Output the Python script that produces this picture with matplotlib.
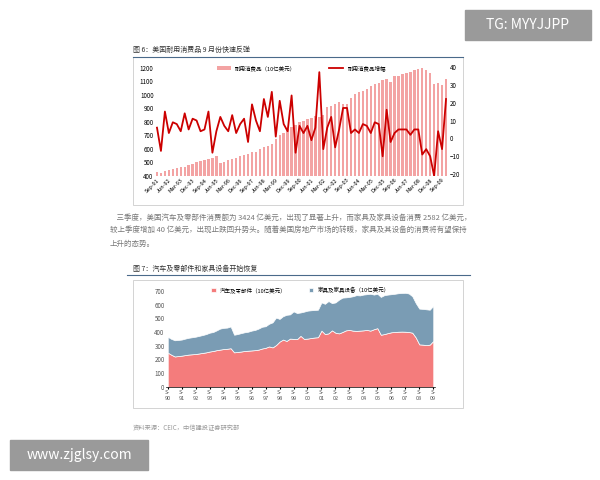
import matplotlib
matplotlib.use("Agg")
import matplotlib.pyplot as plt
import numpy as np

plt.rcParams['font.family'] = ['Noto Sans CJK SC', 'DejaVu Sans']

# Chart 1: durable goods (quarterly, Sep-91 .. )
dur_ticks = ['Sep-91','Jun-92','Mar-93','Dec-93','Sep-94','Jun-95','Mar-96','Dec-96','Sep-97',
             'Jun-98','Mar-99','Dec-99','Sep-00','Jun-01','Mar-02','Dec-02','Sep-03','Jun-04',
             'Mar-05','Dec-05','Sep-06','Jun-07','Mar-08','Dec-08','Sep-09']
dur_level = [430,425,440,445,452,460,465,470,480,490,500,510,520,525,530,545,495,505,515,
             525,535,545,555,565,575,580,600,615,620,640,670,700,720,745,760,780,800,810,
             820,830,840,835,850,910,915,935,945,935,930,975,1005,1020,1030,1045,1065,1080,
             1090,1110,1120,1095,1140,1140,1150,1160,1170,1180,1190,1200,1185,1160,1080,
             1090,1070,1120]
dur_growth = [6,-7,15,3,9,8,4,14,5,11,10,4,5,15,-8,4,12,7,4,13,3,8,11,-2,19,10,4,22,12,26,
              1,21,8,4,24,-8,7,3,7,-1,6,37,-6,6,12,-5,5,17,17,3,5,3,8,7,3,9,8,-10,16,-2,3,5,
              5,5,2,5,5,-9,-6,-10,-21,4,-6,22]

# Chart 2: autos & furniture (quarterly, Sep-90 .. Sep-09)
q_ticks = ['S-\n90','S-\n91','S-\n92','S-\n93','S-\n94','S-\n95','S-\n96','S-\n97','S-\n98','S-\n99',
           'S-\n00','S-\n01','S-\n02','S-\n03','S-\n04','S-\n05','S-\n06','S-\n07','S-\n08','S-\n09']
auto = [250,235,222,225,228,232,236,238,240,244,248,252,258,262,268,272,276,278,282,252,
        255,258,262,264,266,268,272,280,285,295,288,305,330,345,335,352,350,348,372,350,
        352,356,360,362,410,385,390,412,395,390,400,412,415,410,408,410,412,415,410,420,
        428,380,385,392,398,400,402,403,402,400,395,360,310,308,305,308,335]
total = [365,350,340,342,345,352,358,362,366,372,378,385,395,400,412,425,430,432,440,380,
         385,392,398,402,410,415,425,438,442,460,470,505,495,515,525,528,550,538,542,548,
         555,558,560,562,615,605,625,610,615,635,650,652,655,660,668,666,672,675,678,672,
         678,655,668,672,675,678,682,684,685,680,660,610,570,568,565,562,590]
furniture = [t - a for t, a in zip(total, auto)]

fig = plt.figure(figsize=(6, 4.8), dpi=100)
fig.patch.set_facecolor('white')

def fx(x): return x / 600
def fy(y): return 1 - y / 480

# page decorations
fig.text(fx(133), fy(50), '图 6：美国耐用消费品 9 月份快速反弹', fontsize=5, va='center', color='#333')
fig.add_artist(plt.Line2D([fx(133), fx(463)], [fy(57), fy(57)], color='#4a6a8a', lw=0.8))
fig.add_artist(plt.Rectangle((fx(133), fy(205)), fx(330), 148/480, fill=False, ec='#cccccc', lw=0.6))

ax1 = fig.add_axes([fx(155), fy(176), fx(293), 111/480])
x1 = np.arange(len(dur_level))
ax1.bar(x1, np.array(dur_level) - 400, bottom=400, width=0.6, color='#f08c8c', alpha=0.8,
        label='耐用消费品（10亿美元）')
ax1.set_ylim(400, 1220)
ax1.set_yticks(range(400, 1201, 100))
ax1.set_xlim(-0.5, len(dur_level) - 0.5)
ax1.set_xticks(range(0, 73, 3))
ax1.set_xticklabels(dur_ticks, rotation=45, ha='right', fontsize=4, rotation_mode='anchor')
ax1.tick_params(axis='y', labelsize=4.5, length=0, pad=1)
ax1.tick_params(axis='x', length=0, pad=1)
ax1b = ax1.twinx()
ax1b.plot(x1, dur_growth, color='#cc0000', lw=1.3, label='耐用消费品增幅')
ax1b.set_ylim(-21, 41)
ax1b.set_yticks(range(-20, 41, 10))
ax1b.tick_params(axis='y', labelsize=4.5, length=0, pad=1)
for a in (ax1, ax1b):
    for s in a.spines.values():
        s.set_visible(False)
h1, l1 = ax1.get_legend_handles_labels()
h2, l2 = ax1b.get_legend_handles_labels()
ax1b.legend(h1 + h2, l1 + l2, loc='upper center', ncol=2, fontsize=4, frameon=False,
            bbox_to_anchor=(0.5, 1.04), columnspacing=6, handlelength=2.5)

# paragraph
para = ['    三季度，美国汽车及零部件消费额为 3424 亿美元，出现了显著上升，而家具及家具设备消费 2582 亿美元，',
        '较上季度增加 40 亿美元，出现止跌回升势头。随着美国房地产市场的转暖，家具及其设备的消费将有望保持',
        '上升的态势。']
for i, line in enumerate(para):
    fig.text(fx(110), fy(218 + i * 13), line, fontsize=5.4, va='center', color='#777')

fig.text(fx(133), fy(269), '图 7：汽车及零部件和家具设备开始恢复', fontsize=5, va='center', color='#333')
fig.add_artist(plt.Line2D([fx(127), fx(470)], [fy(275), fy(275)], color='#4a6a8a', lw=0.8))
fig.add_artist(plt.Rectangle((fx(133), fy(408)), fx(330), 128/480, fill=False, ec='#cccccc', lw=0.6))

ax2 = fig.add_axes([fx(166), fy(387), fx(269), 99/480])
x2 = np.arange(len(auto))
ax2.stackplot(x2, auto, furniture, colors=['#f47c7c', '#7a9cb4'],
              labels=['汽车及零部件（10亿美元）', '家具及家具设备（10亿美元）'],
              edgecolor='white', lw=0.5)
ax2.set_ylim(0, 720)
ax2.set_yticks(range(0, 701, 100))
ax2.set_xlim(-0.5, len(auto) - 0.5)
ax2.set_xticks(range(0, 77, 4))
ax2.set_xticklabels(q_ticks, fontsize=4, color='#555')
ax2.tick_params(axis='y', labelsize=4.5, length=0, pad=1, labelcolor='#555')
ax2.tick_params(axis='x', length=1.5, pad=1)
for s in ['top', 'right', 'left']:
    ax2.spines[s].set_visible(False)
ax2.spines['bottom'].set_linewidth(0.5)
ax2.legend(loc='upper center', ncol=2, fontsize=4, frameon=False, bbox_to_anchor=(0.5, 1.06),
           columnspacing=4, handlelength=0.8, handleheight=0.8)

fig.text(fx(133), fy(428), '资料来源：CEIC，中信建投证券研究部', fontsize=4.5, va='center',
         color='#999', style='italic')

# watermarks
fig.add_artist(plt.Rectangle((fx(465), fy(40)), fx(126), 30/480, color='#9a9a9a'))
fig.text(fx(528), fy(25), 'TG: MYYJJPP', fontsize=10, color='white', ha='center', va='center')
fig.add_artist(plt.Rectangle((fx(10), fy(470)), fx(138), 30/480, color='#9a9a9a'))
fig.text(fx(79), fy(455), 'www.zjglsy.com', fontsize=10, color='white', ha='center', va='center')

fig.savefig('out.png', dpi=100)
